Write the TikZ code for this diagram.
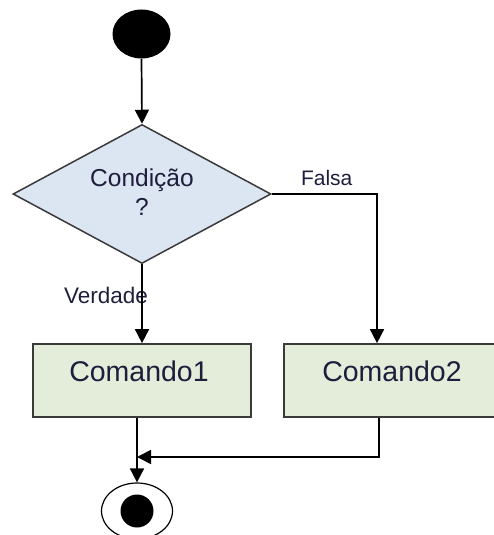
\documentclass[tikz,border=0pt]{standalone}
\usepackage{fontspec}
\setmainfont{Liberation Sans}
\usetikzlibrary{shapes.geometric,arrows.meta}
\definecolor{decfill}{HTML}{DCE6F2}
\definecolor{actfill}{HTML}{E3EDD9}
\definecolor{ink}{HTML}{1E1E3C}
\definecolor{edge}{HTML}{3A3A3A}
\begin{document}
\begin{tikzpicture}[x=1pt,y=-1pt,
  flow/.style={line width=1.7pt, draw=black, -{Triangle[length=14pt,width=14pt]}},
  wire/.style={line width=1.7pt, draw=black},
  action/.style={rectangle, draw=edge, line width=1.7pt, fill=actfill,
    minimum width=218pt, minimum height=73pt, inner sep=0pt},
  decision/.style={diamond, draw=edge, line width=1.5pt, fill=decfill,
    minimum width=258pt, minimum height=139pt, inner sep=0pt, aspect=1.856},
  txt/.style={text=ink, inner sep=0pt, anchor=base}]
  \useasboundingbox (0,0) rectangle (494,535);
  \clip (0,0) rectangle (494,535);

  % initial and final states
  \node[ellipse, fill=black, minimum width=58pt, minimum height=49pt, inner sep=0pt] (start) at (141.5,34) {};
  \node[ellipse, draw=black, line width=1.2pt, minimum width=71pt, minimum height=56pt, inner sep=0pt] (endc) at (137,511) {};
  \node[circle, fill=black, minimum size=33pt, inner sep=0pt] (endd) at (endc.center) {};

  % decision
  \node[decision] (dia) at (142,194) {};
  \node[txt, font=\fontsize{24.5}{28}\selectfont] (condtxt) at (142,186.6) {Condição};
  \node[txt, font=\fontsize{24.5}{28}\selectfont] (qtxt) at (142,215) {?};

  % actions
  \node[action] (cmd1) at (142,380.5) {};
  \node[action] (cmd2) at (393,380.5) {};
  \node[txt, font=\fontsize{28.5}{32}\selectfont] (c1txt) at (139,381.7) {Comando1};
  \node[txt, font=\fontsize{28.5}{32}\selectfont] (c2txt) at (392,381.7) {Comando2};

  % branch labels
  \node[txt, font=\fontsize{21}{24}\selectfont] (falsa) at (326.7,185) {Falsa};
  \node[txt, font=\fontsize{22.5}{26}\selectfont] (verdade) at (106,303.3) {Verdade};

  % connectors
  \coordinate (merge) at (137,457);
  \draw[flow] (start.south) -- (dia.north);
  \draw[flow] (dia.south) -- (cmd1.north);
  \draw[flow] (dia.east) -| ([xshift=-16pt]cmd2.north);
  \draw[flow] (endc.north |- cmd1.south) -- (endc.north);
  \draw[flow] ([xshift=-14pt]cmd2.south) |- (merge);
\end{tikzpicture}
\end{document}
